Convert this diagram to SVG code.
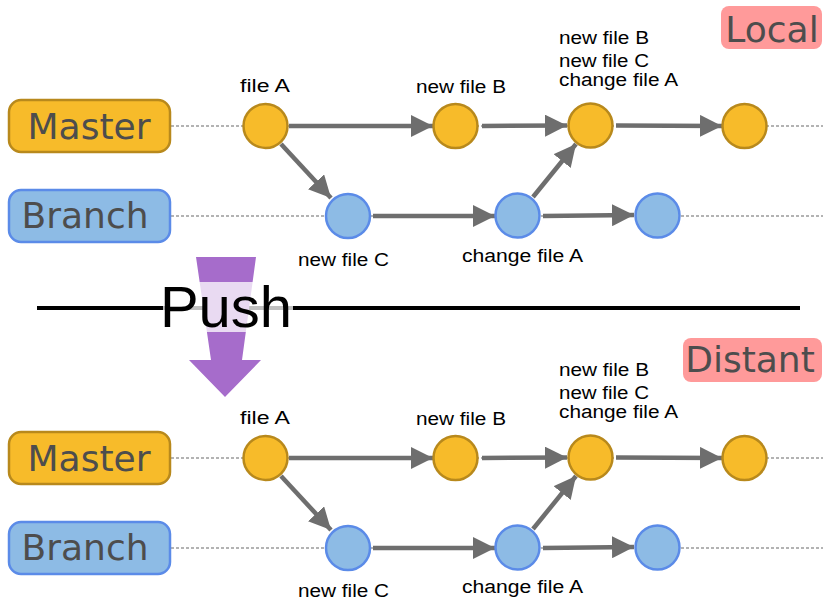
<svg xmlns="http://www.w3.org/2000/svg" width="823" height="599" viewBox="0 0 823 599">
<style>
.bg{fill:#fff}
.mbox{fill:#F7BB2A;stroke:#B8891C;stroke-width:2.5}
.bbox{fill:#8DBBE5;stroke:#5B8BE8;stroke-width:2.5}
.mc{fill:#F7BB2A;stroke:#B8891C;stroke-width:2.5}
.bc{fill:#8DBBE5;stroke:#5B8BE8;stroke-width:2.5}
.btxt{font-family:"DejaVu Sans",sans-serif;font-size:36px;fill:#4D4D4D;text-anchor:middle}
.lbl{font-family:"Liberation Sans",Arial,sans-serif;font-size:18px;fill:#000}
.dot{stroke:#9A9A9A;stroke-width:1.5;stroke-dasharray:3 2;fill:none}
.arr{stroke:#6E6E6E;stroke-width:4.5;fill:none;marker-end:url(#ah)}
.tag{fill:#FF9A9A}
</style>
<defs>
<marker id="ah" markerUnits="userSpaceOnUse" markerWidth="22" markerHeight="22" refX="20" refY="10" orient="auto" viewBox="0 0 20 20">
<path d="M0,0 L20,10 L0,20 Z" fill="#6E6E6E"/>
</marker>
</defs>
<rect class="bg" x="0" y="0" width="823" height="599"/>

<g id="local">
<g id="local-dotted">
<line class="dot" x1="171" y1="126" x2="823" y2="126"/>
<line class="dot" x1="171" y1="216" x2="823" y2="216"/>
</g>
<g id="local-connectors">
<line class="arr" x1="289" y1="126" x2="433" y2="126"/>
<line class="arr" x1="482" y1="126" x2="567" y2="125.5"/>
<line class="arr" x1="616" y1="125.5" x2="722" y2="126"/>
<line class="arr" x1="281" y1="144" x2="331" y2="198"/>
<line class="arr" x1="373" y1="216" x2="495" y2="216"/>
<line class="arr" x1="533" y1="197" x2="576" y2="144"/>
<line class="arr" x1="543" y1="216" x2="634" y2="215"/>
</g>
<g id="local-master"><rect class="mbox" x="9" y="100" width="161" height="52" rx="12"/><text class="btxt" x="89" y="139">Master</text></g>
<g id="local-branch"><rect class="bbox" x="9" y="190" width="161" height="52" rx="12"/><text class="btxt" x="85" y="228">Branch</text></g>
<g id="local-m1"><circle class="mc" cx="265.5" cy="126" r="22"/><text class="lbl" x="240" y="92" textLength="50" lengthAdjust="spacingAndGlyphs">file A</text></g>
<g id="local-m2"><circle class="mc" cx="455.5" cy="126" r="22"/><text class="lbl" x="416" y="92.5" textLength="90" lengthAdjust="spacingAndGlyphs">new file B</text></g>
<g id="local-m3"><circle class="mc" cx="590.5" cy="125.5" r="22"/>
<text class="lbl" x="559" y="43.5" textLength="90" lengthAdjust="spacingAndGlyphs">new file B</text>
<text class="lbl" x="559" y="66.5" textLength="90" lengthAdjust="spacingAndGlyphs">new file C</text>
<text class="lbl" x="559" y="86" textLength="119" lengthAdjust="spacingAndGlyphs">change file A</text></g>
<g id="local-m4"><circle class="mc" cx="744.5" cy="126" r="22"/></g>
<g id="local-b1"><circle class="bc" cx="348" cy="216" r="22"/><text class="lbl" x="298" y="266" textLength="91" lengthAdjust="spacingAndGlyphs">new file C</text></g>
<g id="local-b2"><circle class="bc" cx="517.5" cy="215.5" r="22"/><text class="lbl" x="462" y="262" textLength="121" lengthAdjust="spacingAndGlyphs">change file A</text></g>
<g id="local-b3"><circle class="bc" cx="657.5" cy="215.5" r="22"/></g>
<g id="local-tag"><rect class="tag" x="721" y="6" width="101" height="43" rx="8"/><text class="btxt" x="772" y="42">Local</text></g>
</g>

<g id="push">
<line x1="37" y1="308" x2="800" y2="308" stroke="#000" stroke-width="4"/>
<polygon points="196,257 256,257 242,360 261,360 225,397 189,360 211,360" fill="#A66CCB"/>
<rect x="163" y="282" width="130" height="50" fill="#fff" fill-opacity="0.75"/>
<text x="226" y="327" font-family="'Liberation Sans',Arial,sans-serif" font-size="58" text-anchor="middle" fill="#000">Push</text>
</g>

<g id="distant" transform="translate(0,332)">
<g id="distant-dotted">
<line class="dot" x1="171" y1="126" x2="823" y2="126"/>
<line class="dot" x1="171" y1="216" x2="823" y2="216"/>
</g>
<g id="distant-connectors">
<line class="arr" x1="289" y1="126" x2="433" y2="126"/>
<line class="arr" x1="482" y1="126" x2="567" y2="125.5"/>
<line class="arr" x1="616" y1="125.5" x2="722" y2="126"/>
<line class="arr" x1="281" y1="144" x2="331" y2="198"/>
<line class="arr" x1="373" y1="216" x2="495" y2="216"/>
<line class="arr" x1="533" y1="197" x2="576" y2="144"/>
<line class="arr" x1="543" y1="216" x2="634" y2="215"/>
</g>
<g id="distant-master"><rect class="mbox" x="9" y="100" width="161" height="52" rx="12"/><text class="btxt" x="89" y="139">Master</text></g>
<g id="distant-branch"><rect class="bbox" x="9" y="190" width="161" height="52" rx="12"/><text class="btxt" x="85" y="228">Branch</text></g>
<g id="distant-m1"><circle class="mc" cx="265.5" cy="126" r="22"/><text class="lbl" x="240" y="92" textLength="50" lengthAdjust="spacingAndGlyphs">file A</text></g>
<g id="distant-m2"><circle class="mc" cx="455.5" cy="126" r="22"/><text class="lbl" x="416" y="92.5" textLength="90" lengthAdjust="spacingAndGlyphs">new file B</text></g>
<g id="distant-m3"><circle class="mc" cx="590.5" cy="125.5" r="22"/>
<text class="lbl" x="559" y="43.5" textLength="90" lengthAdjust="spacingAndGlyphs">new file B</text>
<text class="lbl" x="559" y="66.5" textLength="90" lengthAdjust="spacingAndGlyphs">new file C</text>
<text class="lbl" x="559" y="86" textLength="119" lengthAdjust="spacingAndGlyphs">change file A</text></g>
<g id="distant-m4"><circle class="mc" cx="744.5" cy="126" r="22"/></g>
<g id="distant-b1"><circle class="bc" cx="348" cy="216" r="22"/><text class="lbl" x="298" y="264.5" textLength="91" lengthAdjust="spacingAndGlyphs">new file C</text></g>
<g id="distant-b2"><circle class="bc" cx="517.5" cy="215.5" r="22"/><text class="lbl" x="462" y="261" textLength="121" lengthAdjust="spacingAndGlyphs">change file A</text></g>
<g id="distant-b3"><circle class="bc" cx="657.5" cy="215.5" r="22"/></g>
<g id="distant-tag"><rect class="tag" x="683" y="6" width="139" height="44" rx="8"/><text class="btxt" x="750" y="40">Distant</text></g>
</g>
</svg>
